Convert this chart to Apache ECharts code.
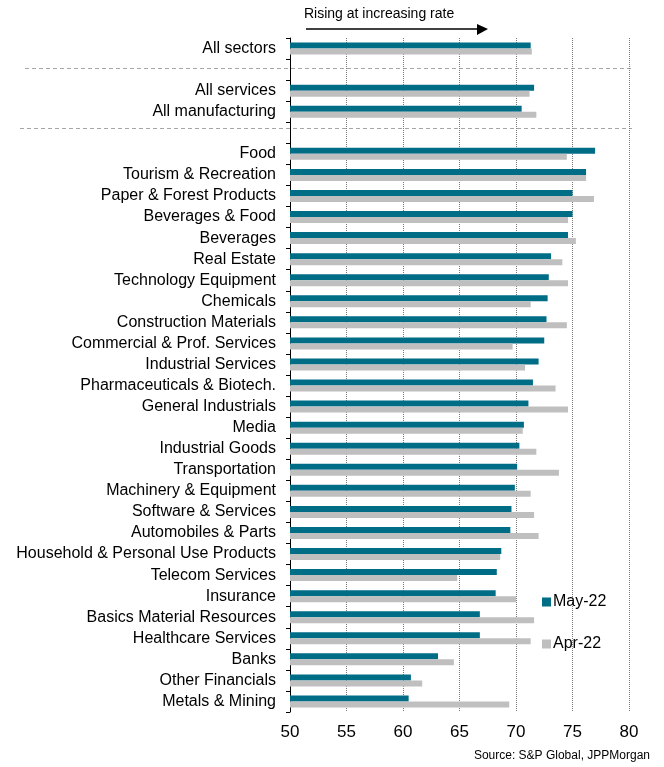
<!DOCTYPE html>
<html>
<head>
<meta charset="utf-8">
<script src="https://cdn.jsdelivr.net/npm/echarts@6/dist/echarts.min.js"></script>
<style>
html, body { margin: 0; padding: 0; background: #fff; }
#chart { width: 664px; height: 767px; }
</style>
</head>
<body>
<div id="chart"></div>
<script>
// blank entries (' ', '  ') are the gaps between the groups
var categories = [
    'All sectors', ' ', 'All services', 'All manufacturing', '  ',
    'Food', 'Tourism & Recreation', 'Paper & Forest Products', 'Beverages & Food',
    'Beverages', 'Real Estate', 'Technology Equipment', 'Chemicals',
    'Construction Materials', 'Commercial & Prof. Services', 'Industrial Services',
    'Pharmaceuticals & Biotech.', 'General Industrials', 'Media', 'Industrial Goods',
    'Transportation', 'Machinery & Equipment', 'Software & Services',
    'Automobiles & Parts', 'Household & Personal Use Products', 'Telecom Services',
    'Insurance', 'Basics Material Resources', 'Healthcare Services', 'Banks',
    'Other Financials', 'Metals & Mining'
];
var may22 = [
    71.3, null, 71.6, 70.5, null,
    77.0, 76.2, 75.0, 75.0, 74.6, 73.1, 72.9, 72.8, 72.7, 72.5, 72.0,
    71.5, 71.1, 70.7, 70.3, 70.1, 69.9, 69.6, 69.5, 68.7, 68.3, 68.2,
    66.8, 66.8, 63.1, 60.7, 60.5
];
var apr22 = [
    71.4, null, 71.2, 71.8, null,
    74.5, 76.2, 76.9, 74.6, 75.3, 74.1, 74.6, 71.3, 74.5, 69.7, 70.8,
    73.5, 74.6, 70.6, 71.8, 73.8, 71.3, 71.6, 72.0, 68.6, 64.8, 70.0,
    71.6, 71.3, 64.5, 61.7, 69.4
];
var xTicks = [50, 55, 60, 65, 70, 75, 80];

var myChart = echarts.init(document.getElementById('chart'));
var font = 'Liberation Sans, Arial, sans-serif';

var option = {
    animation: false,
    backgroundColor: '#fff',
    textStyle: { fontFamily: font },
    grid: { left: 290, right: 35, top: 38, bottom: 55, containLabel: false },
    legend: {
        orient: 'vertical',
        left: 537,
        top: 589,
        itemWidth: 9,
        itemHeight: 9,
        itemGap: 26,
        icon: 'rect',
        textStyle: { fontSize: 16, color: '#000', fontFamily: font, padding: [0, 0, 0, -3] },
        data: ['May-22', 'Apr-22']
    },
    xAxis: {
        type: 'value',
        min: xTicks[0],
        max: xTicks[xTicks.length - 1],
        interval: 5,
        axisLine: { show: false },
        axisTick: { show: false },
        axisLabel: { fontSize: 17, color: '#000', margin: 12, fontFamily: font },
        splitLine: { show: true, lineStyle: { type: 'dotted', color: '#7a7a7a', width: 1 } }
    },
    yAxis: {
        type: 'category',
        inverse: true,
        data: categories,
        axisLine: { show: true, lineStyle: { color: '#000', width: 1 } },
        axisTick: { show: true, length: 4, lineStyle: { color: '#000' } },
        axisLabel: { fontSize: 16, color: '#000', margin: 14, fontFamily: font },
        splitLine: { show: false }
    },
    series: [
        {
            name: 'May-22',
            type: 'bar',
            data: may22,
            barWidth: 6,
            barGap: '0%',
            itemStyle: { color: '#006D87' }
        },
        {
            name: 'Apr-22',
            type: 'bar',
            data: apr22,
            barWidth: 6,
            barGap: '0%',
            itemStyle: { color: '#BFBFBF' }
        }
    ],
    graphic: [
        {
            type: 'text', left: 304, top: 7,
            style: { text: 'Rising at increasing rate', fontSize: 14, fill: '#000', fontFamily: font }
        },
        {
            type: 'line',
            shape: { x1: 306, y1: 29, x2: 478, y2: 29 },
            style: { stroke: '#000', lineWidth: 1.5 }
        },
        {
            type: 'polygon',
            shape: { points: [[477, 24], [488, 29], [477, 35]] },
            style: { fill: '#000' }
        },
        {
            type: 'line',
            shape: { x1: 25, y1: 68.5, x2: 634, y2: 68.5 },
            style: { stroke: '#a6a6a6', lineWidth: 1, lineDash: [4, 3] }
        },
        {
            type: 'line',
            shape: { x1: 20, y1: 128.5, x2: 632, y2: 128.5 },
            style: { stroke: '#a6a6a6', lineWidth: 1, lineDash: [4, 3] }
        },
        {
            type: 'text', right: 14, top: 750,
            style: { text: 'Source: S&P Global, JPPMorgan', fontSize: 12, fill: '#000', fontFamily: font }
        }
    ]
};

myChart.setOption(option);
</script>
</body>
</html>
